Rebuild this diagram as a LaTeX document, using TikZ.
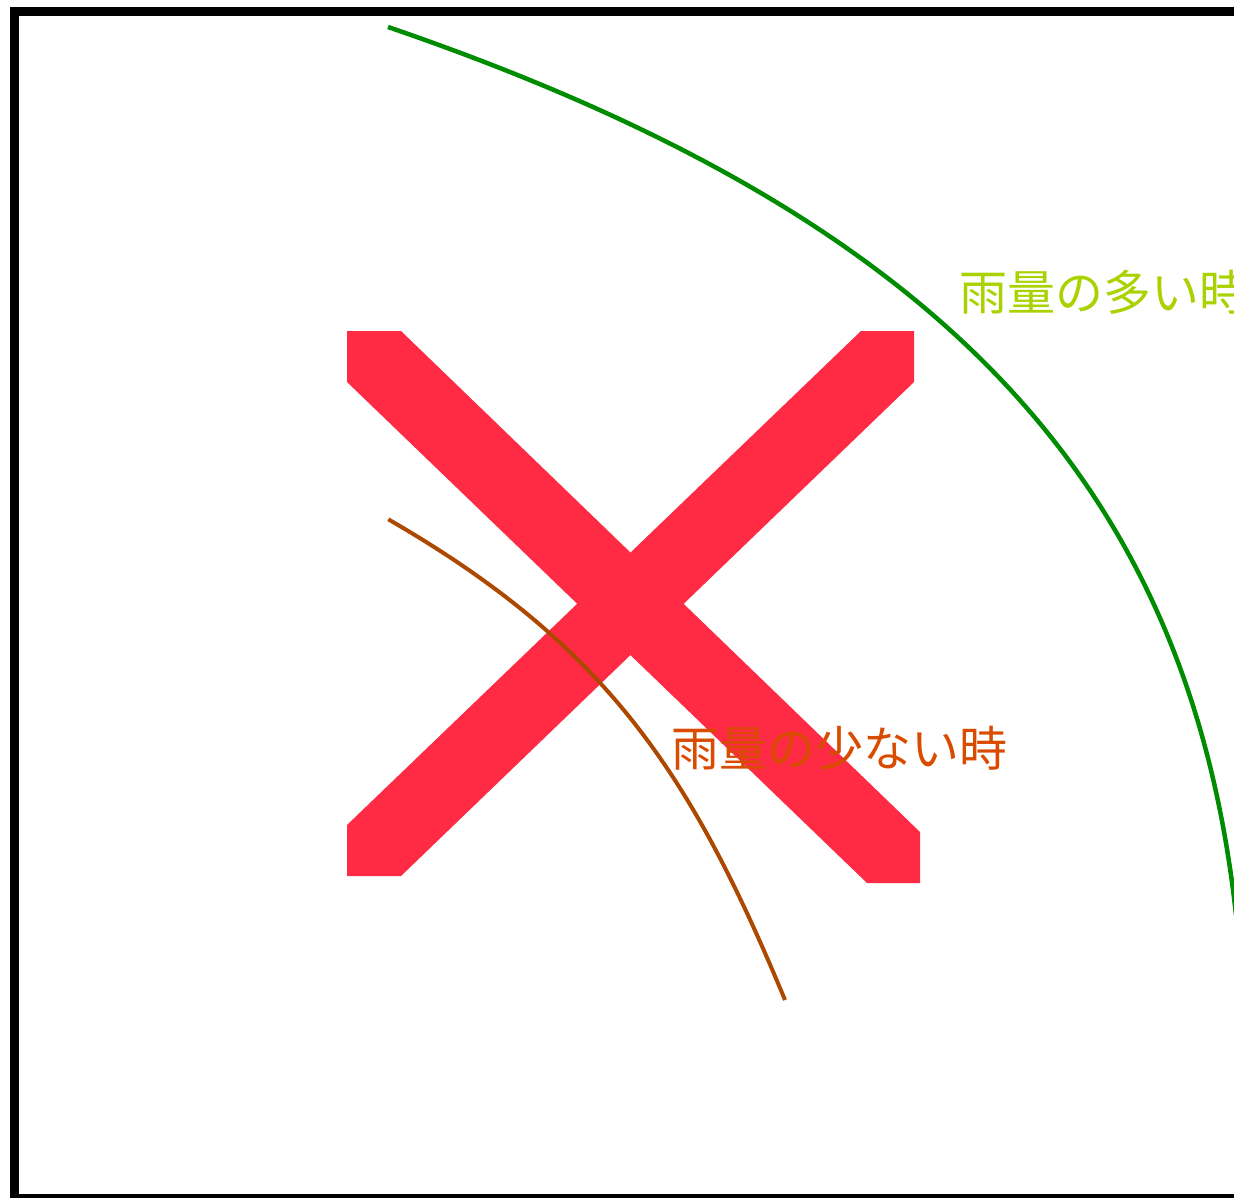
\documentclass[tikz,border=0pt]{standalone}
\usepackage{fontspec}
\newfontfamily\cjk{Noto Sans CJK JP}
\definecolor{xred}{RGB}{255,43,68}
\definecolor{arcgreen}{RGB}{0,140,0}
\definecolor{arcbrown}{RGB}{172,72,0}
\definecolor{txtgreen}{RGB}{170,210,0}
\definecolor{txtorange}{RGB}{217,75,0}
\tikzset{
  frameline/.style={draw=black,line width=9pt},
  xbar/.style={fill=xred,draw=none},
  bigarc/.style={draw=arcgreen,line width=4.5pt},
  smallarc/.style={draw=arcbrown,line width=4pt},
  lbl/.style={inner sep=0pt,font=\cjk\fontsize{48}{58}\selectfont}
}
\begin{document}
\begin{tikzpicture}[x=1pt,y=-1pt]
\useasboundingbox (0,0) rectangle (1234,1198);
% frame
\draw[frameline] (14.5,11.2) rectangle (1260,1198.5);
% red X
\fill[xbar] (347,331) -- (401,331) -- (920,832) -- (920,883) -- (867,883) -- (347,382) -- cycle;
\fill[xbar] (861,331) -- (914,331) -- (914,382) -- (401,876) -- (347,876) -- (347,825) -- cycle;
% arcs
\draw[bigarc] (388,27) .. controls (937.5,215.2) and (1188.5,481.1) .. (1236,915);
\draw[smallarc] (388.3,519.3) .. controls (606.2,645.1) and (690.6,772.3) .. (785,1000);
% labels
\node[lbl,text=txtgreen,anchor=base west] (many) at (959,311) {雨量の多い時};
\node[lbl,text=txtorange,anchor=base west] (few) at (671,766) {雨量の少ない時};
\end{tikzpicture}
\end{document}
